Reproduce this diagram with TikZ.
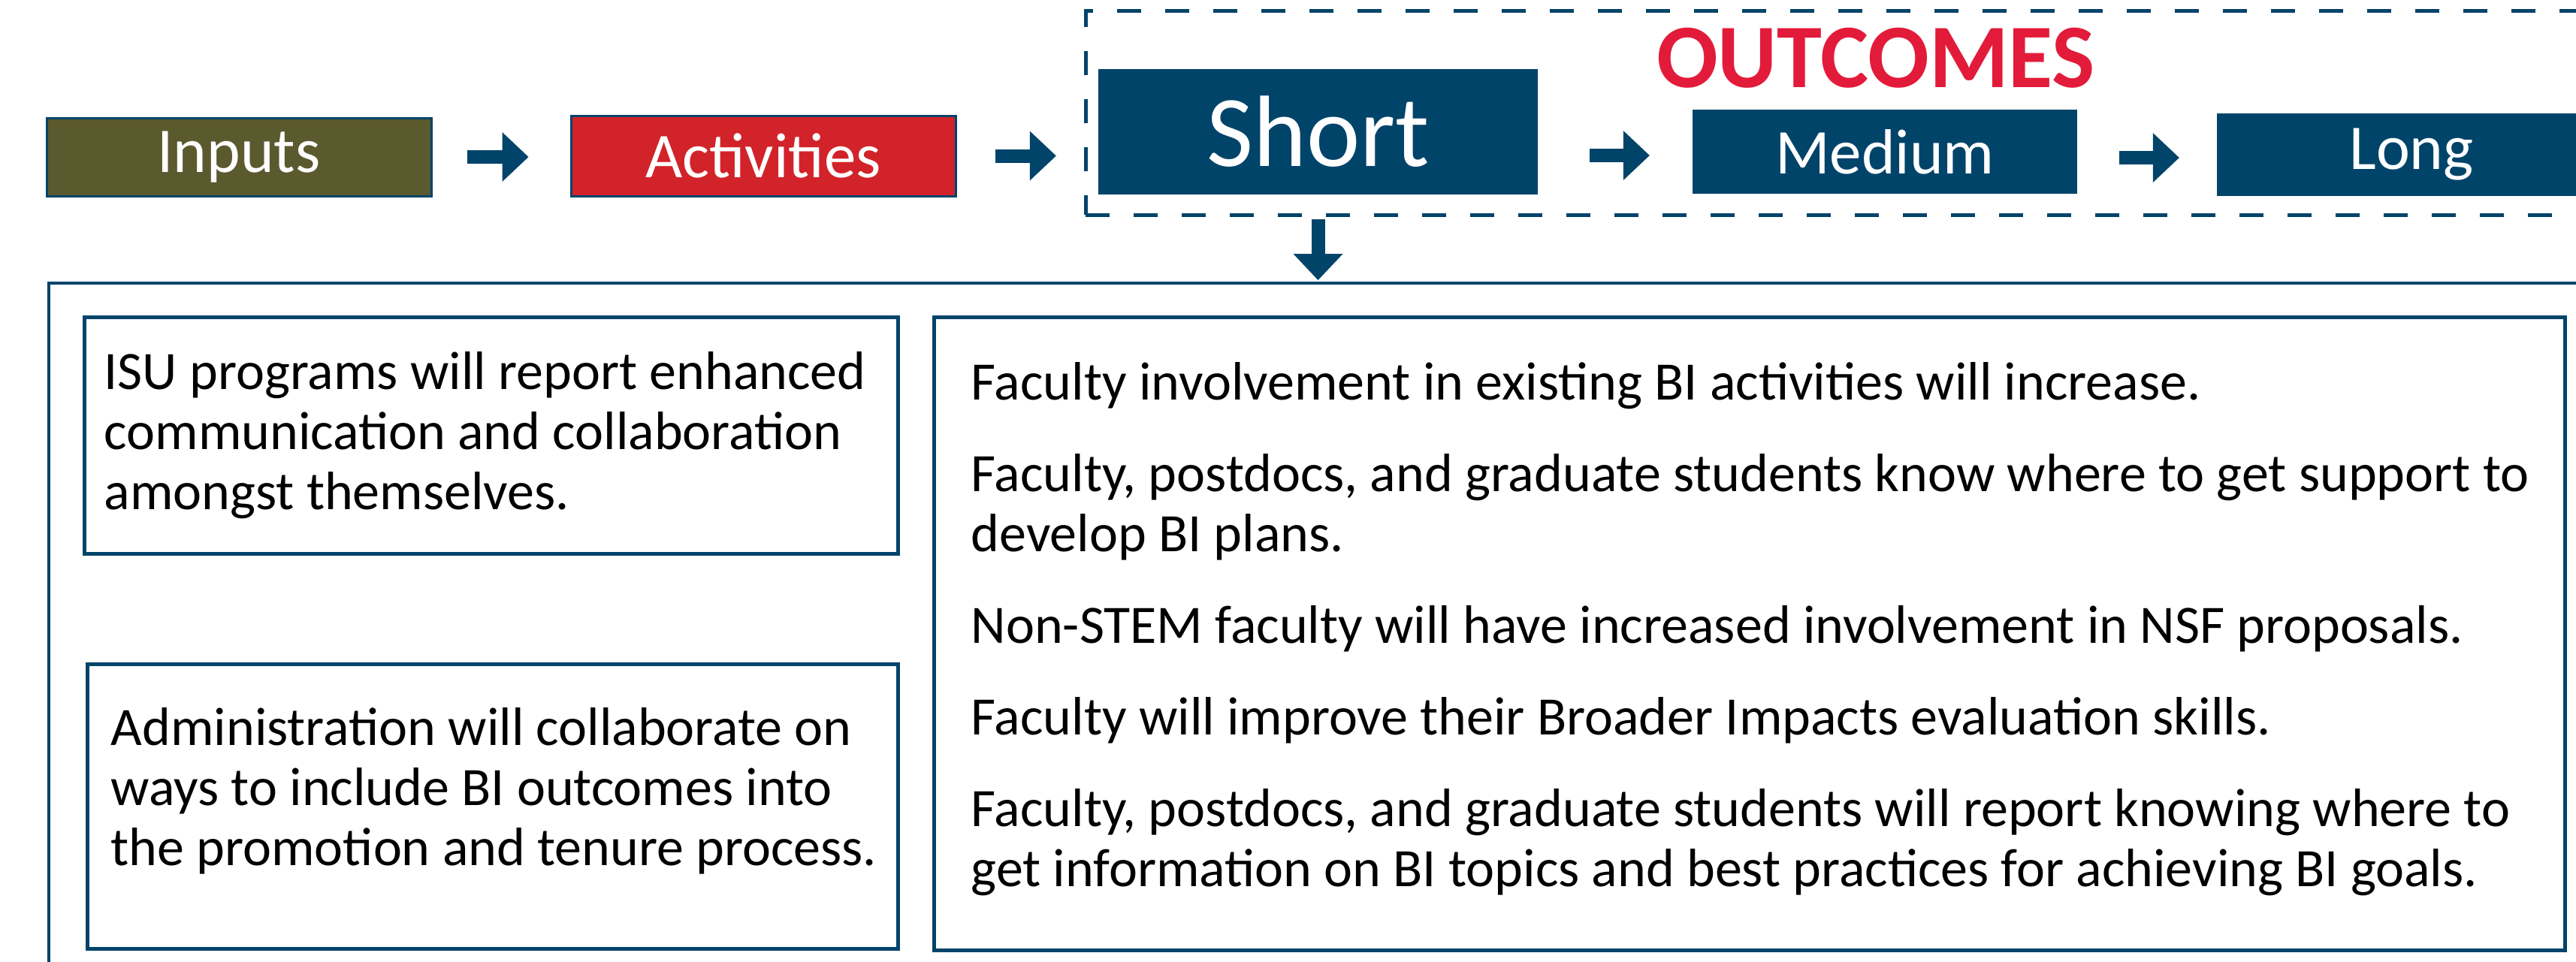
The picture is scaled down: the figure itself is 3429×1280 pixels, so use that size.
\documentclass[tikz,border=0pt]{standalone}
\usepackage{fontspec}
\setmainfont{Carlito}
\usetikzlibrary{arrows.meta}
\definecolor{ColBlue}{RGB}{1,68,106}
\definecolor{ColOlive}{RGB}{91,89,46}
\definecolor{ColRed}{RGB}{210,35,42}
\definecolor{ColTitle}{RGB}{227,27,58}
\tikzstyle{StageBox}=[draw=ColBlue,line width=3pt,text=white,inner sep=0pt,
font=\fontsize{85}{100}\selectfont]
\tikzstyle{OutcomeBox}=[fill=ColBlue,text=white,inner sep=0pt,font=\fontsize{85}{100}\selectfont]
\tikzstyle{TextBox}=[draw=ColBlue,line width=5pt]
\tikzstyle{BodyText}=[align=left,inner sep=0pt,font=\fontsize{72}{80}\selectfont]
\tikzstyle{BlockArrow}=[ColBlue,line width=18pt,-{Triangle[length=35pt,width=66pt,line width=0pt]}]
\tikzstyle{DashFrame}=[draw=ColBlue,line width=5pt,dash pattern=on 32pt off 32pt]

\begin{document}
\begin{tikzpicture}[x=1pt,y=-1pt]
        \useasboundingbox(0,0)rectangle(3429,1280);
        \clip(0,0)rectangle(3429,1280);
        % top row
        \node[StageBox,fill=ColOlive,minimum width=512pt,minimum height=104pt](inputs)at(318,209){Inputs};
        \node[StageBox,fill=ColRed,minimum width=512pt,minimum height=107pt](activities)at(1016,207.5){Activities};
        \node[DashFrame,minimum width=2045pt,minimum height=272pt](frame)at(2467.5,150){};
        \node[OutcomeBox,minimum width=585pt,minimum height=167pt,font=\fontsize{135}{150}\selectfont](short)at(1754.5,175.5){Short};
        \node[OutcomeBox,minimum width=512pt,minimum height=112pt](medium)at(2509,202){Medium};
        \node[OutcomeBox,minimum width=518pt,minimum height=110pt](long)at(3210,206){Long};
        \node[text=ColTitle,inner sep=0pt,anchor=base,font=\bfseries\fontsize{121}{140}\selectfont](title)at(2497,116){OUTCOMES};
        \draw[BlockArrow,shorten <=46pt,shorten >=55pt](inputs.east)--(inputs.east -| activities.west);
        \draw[BlockArrow,shorten <=51pt,shorten >=56pt](activities.east)--(activities.east -| short.west);
        \draw[BlockArrow,shorten <=69pt,shorten >=57pt]([yshift=-5pt]short.east |- medium.west)--([yshift=-5pt]medium.west);
        \draw[BlockArrow,shorten <=56pt,shorten >=50pt]([yshift=-8pt]medium.east)--([yshift=-8pt]medium.east -| long.west);
        % short term outcomes
        \node[draw=ColBlue,line width=4pt,minimum width=3415pt,minimum height=953pt](panel)at(1772.5,853.5){};
        \draw[BlockArrow,shorten <=3pt,shorten >=2pt](frame.south -| short)--(panel.north -| short);
        \node[TextBox,minimum width=1083pt,minimum height=315pt](isu)at(653.5,579.5){};
        \node[TextBox,minimum width=1079pt,minimum height=379pt](admin)at(655.5,1073.5){};
        \node[TextBox,minimum width=2171pt,minimum height=843pt](effects)at(2328.5,843.5){};
        \node[BodyText,anchor=west](isutext)at([xshift=29pt]isu.west){ISU programs will report enhanced\\
        communication and collaboration\\amongst themselves.};
        \node[BodyText,anchor=west](admintext)at([xshift=34pt,yshift=20pt]admin.west){Administration will collaborate on\\
        ways to include BI outcomes into\\the promotion and tenure process.};
        \node[BodyText,anchor=west](effectstext)at([xshift=52pt,yshift=6pt]effects.west){Faculty involvement in existing BI activities will increase.\\[42pt]
        Faculty, postdocs, and graduate students know where to get support to\\develop BI plans.\\[42pt]
        Non-STEM faculty will have increased involvement in NSF proposals.\\[42pt]
        Faculty will improve their Broader Impacts evaluation skills.\\[42pt]
        Faculty, postdocs, and graduate students will report knowing where to\\
        get information on BI topics and best practices for achieving BI goals.};
    \end{tikzpicture}
\end{document}
